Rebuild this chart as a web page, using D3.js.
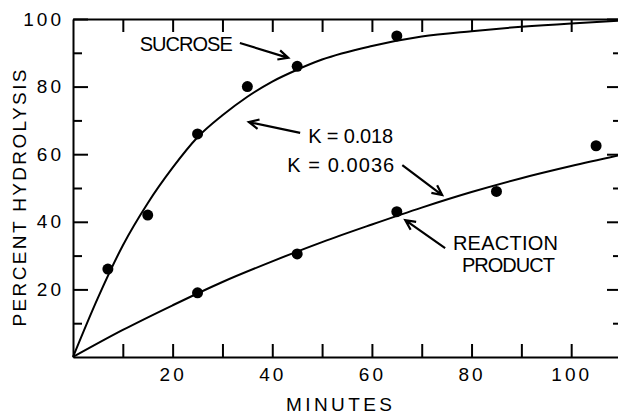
<!DOCTYPE html>
<html>
<head>
<meta charset="utf-8">
<script src="https://cdn.jsdelivr.net/npm/d3@7"></script>
<style>
    body { margin: 0; background: #fff; }
    text { font-family: "Liberation Sans", Arial, sans-serif; fill: #000; }
    .axis path, .axis line { stroke: #000; stroke-width: 2; }
</style>
</head>
<body>
<svg id="chart" width="618" height="416"></svg>
<script>
// measured points
const sucroseMinutes = [7, 15, 25, 35, 45, 65]
const sucrosePercent = [26, 42, 66, 80, 86, 95]
const productMinutes = [25, 45, 65, 85, 105]
const productPercent = [19, 30.5, 43, 49, 62.5]

// fitted curves
const sucroseFitMinutes = [0, 5, 10, 15, 20, 25, 30, 35, 40, 45, 50, 60, 70, 80, 90, 100, 110]
const sucroseFitPercent = [0, 17.5, 33, 45.5, 56, 65, 71.5, 77, 81.5, 85, 88, 92, 94.8, 96.4, 97.7, 98.7, 99.5]
const productFitMinutes = [0, 10, 20, 30, 40, 50, 60, 70, 80, 90, 100, 110]
const productFitPercent = [0, 8, 15.3, 22.2, 28.3, 34, 39.2, 44.2, 48.8, 52.9, 56.5, 59.8]

const xMinor = [10, 30, 50, 70, 90]
const xTickLabels = [20, 40, 60, 80, 100]
const yMinor = [10, 30, 50, 70, 90]
const yTickLabels = [20, 40, 60, 80, 100]

const svg = d3.select("#chart")
const plot = { left: 73, right: 621, top: 19, bottom: 357 }

const x = d3.scaleLinear().domain([0, 110]).range([plot.left, plot.right])
const y = d3.scaleLinear().domain([0, 100]).range([plot.bottom, plot.top])

const tickFont = g => g.selectAll("text")
    .style("font-family", "'Liberation Sans', Arial, sans-serif")
    .style("font-size", "19px")
    .style("letter-spacing", "3px")
    .attr("fill", "#000")

// bottom axis
svg.append("g").attr("class", "axis")
    .attr("transform", `translate(0,${plot.bottom})`)
    .call(d3.axisBottom(x).tickValues(xMinor.concat(xTickLabels))
        .tickSizeInner(-13).tickSizeOuter(0).tickPadding(11)
        .tickFormat(d => xTickLabels.includes(d) ? d : ""))
    .call(tickFont)

// top axis
svg.append("g").attr("class", "axis")
    .attr("transform", `translate(0,${plot.top})`)
    .call(d3.axisTop(x).tickValues(xMinor.concat(xTickLabels))
        .tickSizeInner(-13).tickSizeOuter(0).tickFormat(""))

// left axis
svg.append("g").attr("class", "axis")
    .attr("transform", `translate(${plot.left},0)`)
    .call(d3.axisLeft(y).tickValues(yTickLabels)
        .tickSizeInner(-15).tickSizeOuter(0).tickPadding(9))
    .call(tickFont)
svg.append("g").attr("class", "axis")
    .attr("transform", `translate(${plot.left},0)`)
    .call(d3.axisLeft(y).tickValues(yMinor).tickSizeInner(-9).tickFormat(""))
    .call(g => g.select(".domain").remove())

// right axis (ticks only)
svg.append("g").attr("class", "axis")
    .attr("transform", `translate(${plot.right},0)`)
    .call(d3.axisRight(y).tickValues(yTickLabels).tickSizeInner(-14).tickFormat(""))
    .call(g => g.select(".domain").remove())
svg.append("g").attr("class", "axis")
    .attr("transform", `translate(${plot.right},0)`)
    .call(d3.axisRight(y).tickValues(yMinor).tickSizeInner(-8).tickFormat(""))
    .call(g => g.select(".domain").remove())

// axis titles
svg.append("text")
    .attr("x", 339).attr("y", 411)
    .attr("text-anchor", "middle")
    .attr("textLength", 106).attr("lengthAdjust", "spacing")
    .style("font-size", "19px")
    .text("MINUTES")

svg.append("text")
    .attr("transform", "translate(25.5,198) rotate(-90)")
    .attr("text-anchor", "middle")
    .attr("textLength", 257).attr("lengthAdjust", "spacing")
    .style("font-size", "19px")
    .text("PERCENT HYDROLYSIS")

// curves
const line = d3.line()
    .x(d => x(d[0]))
    .y(d => y(d[1]))
    .curve(d3.curveMonotoneX)

svg.append("path")
    .datum(d3.zip(sucroseFitMinutes, sucroseFitPercent))
    .attr("d", line)
    .attr("fill", "none").attr("stroke", "#000").attr("stroke-width", 2)

svg.append("path")
    .datum(d3.zip(productFitMinutes, productFitPercent))
    .attr("d", line)
    .attr("fill", "none").attr("stroke", "#000").attr("stroke-width", 2)

// points
svg.append("g").selectAll("circle")
    .data(d3.zip(sucroseMinutes, sucrosePercent).concat(d3.zip(productMinutes, productPercent)))
    .join("circle")
    .attr("cx", d => x(d[0]))
    .attr("cy", d => y(d[1]))
    .attr("r", 5.5)
    .attr("fill", "#000")

// annotations (in data units)
const notes = [
    { text: "SUCROSE", x: 13.4, y: 90.5, anchor: "start", len: 93 },
    { text: "K = 0.018", x: 47.2, y: 63.3, anchor: "start", len: 85 },
    { text: "K = 0.0036", x: 43.0, y: 54.7, anchor: "start", len: 107 },
    { text: "REACTION", x: 86.8, y: 31.7, anchor: "middle", len: 105 },
    { text: "PRODUCT", x: 87.4, y: 25.1, anchor: "middle", len: 93 },
]
svg.append("g").selectAll("text")
    .data(notes)
    .join("text")
    .attr("x", d => x(d.x))
    .attr("y", d => y(d.y))
    .attr("text-anchor", d => d.anchor)
    .attr("textLength", d => d.len)
    .attr("lengthAdjust", "spacing")
    .style("font-size", "20px")
    .text(d => d.text)

const arrows = [
    { from: [33.5, 92.9], to: [43.2, 88.5] },
    { from: [45.6, 66.3], to: [35.3, 69.5] },
    { from: [66.1, 56.8], to: [74.1, 47.9] },
    { from: [74.7, 32.2], to: [66.7, 40.5] },
]
const arrowPath = d => {
    const x0 = x(d.from[0]), y0 = y(d.from[1])
    const x1 = x(d.to[0]), y1 = y(d.to[1])
    const a = Math.atan2(y1 - y0, x1 - x0)
    const h = 11, w = 0.45
    const lx = x1 - h * Math.cos(a - w), ly = y1 - h * Math.sin(a - w)
    const rx = x1 - h * Math.cos(a + w), ry = y1 - h * Math.sin(a + w)
    return `M${x0},${y0}L${x1},${y1}M${lx},${ly}L${x1},${y1}L${rx},${ry}`
}
svg.append("g").selectAll("path")
    .data(arrows)
    .join("path")
    .attr("d", arrowPath)
    .attr("fill", "none")
    .attr("stroke", "#000")
    .attr("stroke-width", 2.2)
</script>
</body>
</html>
